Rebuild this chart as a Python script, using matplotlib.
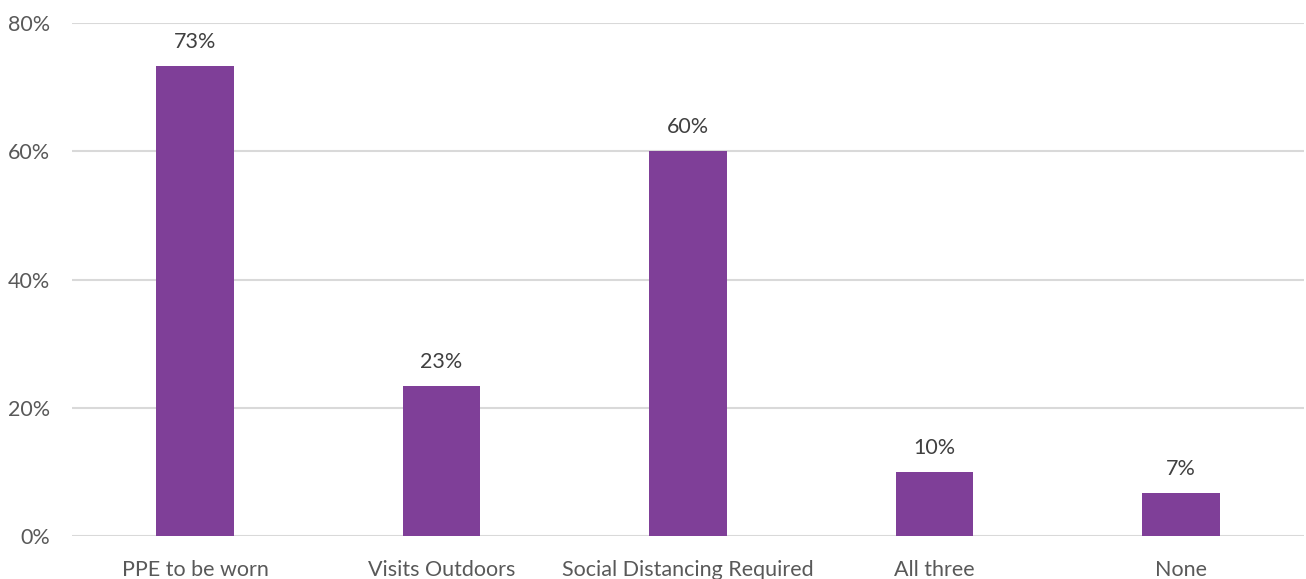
import matplotlib
matplotlib.use("Agg")
import matplotlib.pyplot as plt
from matplotlib.ticker import FuncFormatter

categories = ["PPE to be worn", "Visits Outdoors", "Social Distancing Required", "All three", "None"]
values = [73.3, 23.4, 60.0, 10.0, 6.7]
labels = ["73%", "23%", "60%", "10%", "7%"]

plt.rcParams['font.family'] = ['Lato', 'DejaVu Sans']

fig = plt.figure(figsize=(13.06, 5.79), dpi=100)
ax = fig.add_axes([72/1306, 43/579, 1232/1306, 513/579])

x = range(len(categories))
bars = ax.bar(x, values, width=0.315, color="#7F3F98", zorder=3)
for xi, v, lab in zip(x, values, labels):
    ax.annotate(lab, (xi, v), xytext=(0, 10), textcoords="offset points",
                ha="center", va="bottom", fontsize=15.5, color="#404040")

ax.set_xlim(-0.5, len(categories) - 0.5)
ax.set_ylim(0, 80)
ax.set_yticks([0, 20, 40, 60, 80])
ax.yaxis.set_major_formatter(FuncFormatter(lambda v, p: f"{int(v)}%"))
ax.set_xticks(list(x))
ax.set_xticklabels(categories)
ax.tick_params(axis="both", length=0, labelsize=15.5, labelcolor="#595959")
ax.tick_params(axis="x", pad=17)
ax.tick_params(axis="y", pad=16)
ax.grid(axis="y", color="#D9D9D9", linewidth=1.5, zorder=0)
for s in ["top", "right", "left", "bottom"]:
    ax.spines[s].set_visible(False)

fig.savefig("out.png", dpi=100)
